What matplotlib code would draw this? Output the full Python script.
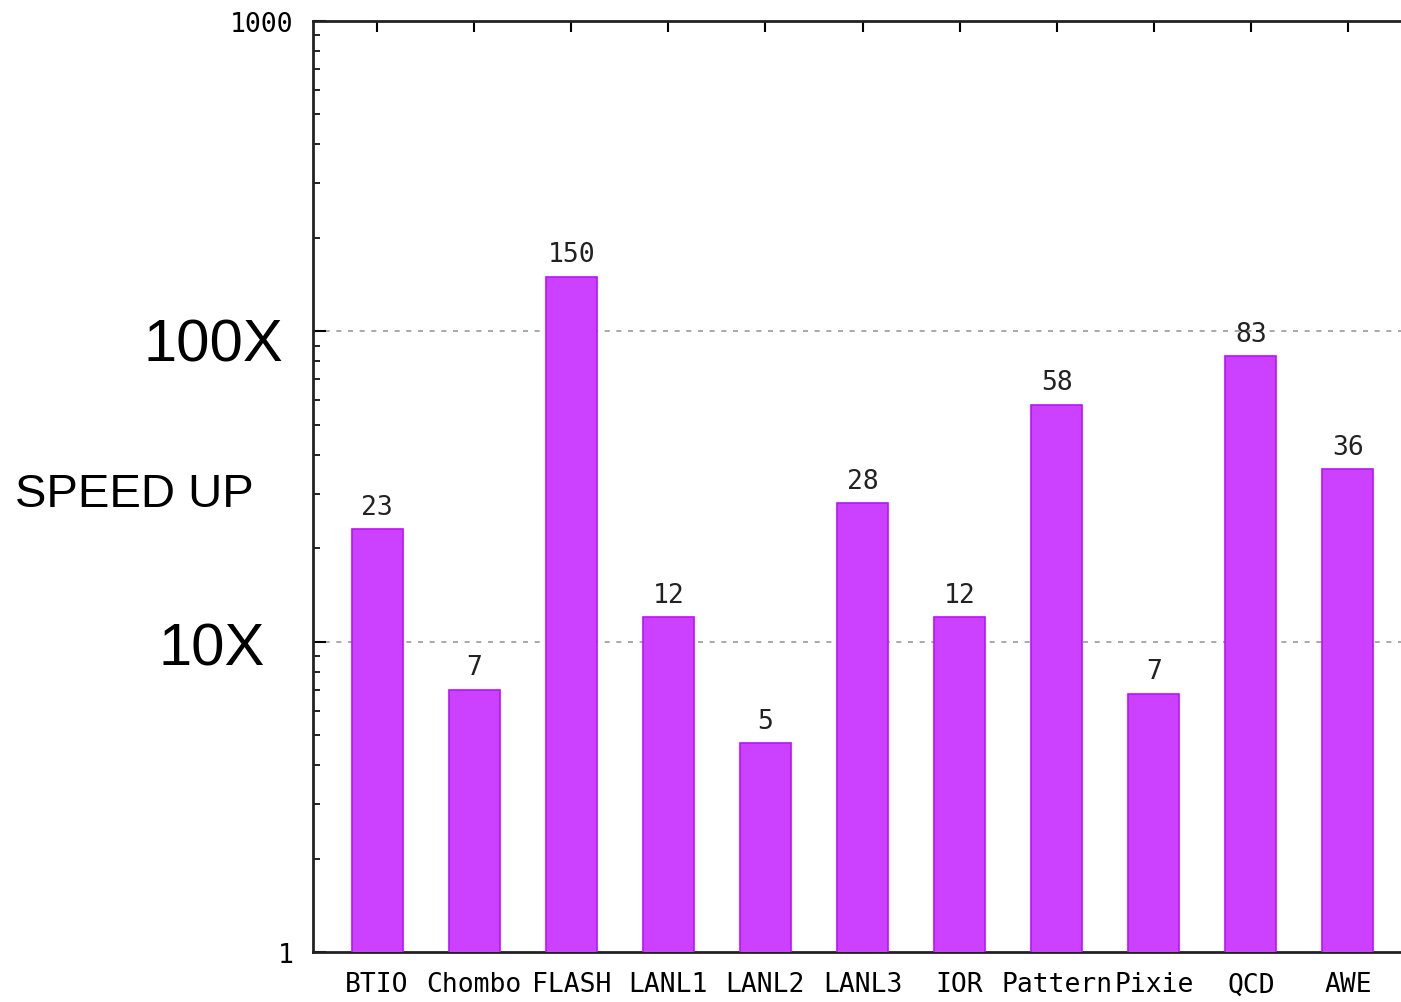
import matplotlib
matplotlib.use('Agg')
import matplotlib.pyplot as plt
from matplotlib.ticker import LogLocator, NullFormatter

benchmarks = ['BTIO', 'Chombo', 'FLASH', 'LANL1', 'LANL2', 'LANL3',
              'IOR', 'Pattern', 'Pixie', 'QCD', 'AWE']
speedup = [23, 7, 150, 12, 4.7, 28, 12, 58, 6.8, 83, 36]

mono = 'DejaVu Sans Mono'

fig = plt.figure(figsize=(14.01, 10.03), dpi=100)
ax = fig.add_axes([313 / 1401, 50 / 1003, 1099 / 1401, 931 / 1003])

x = list(range(len(benchmarks)))
ax.bar(x, speedup, width=0.525, color='#cc40ff', edgecolor='#bb10ff',
       linewidth=1.2, zorder=3)

for xi, v in zip(x, speedup):
    ax.annotate(f'{v:.0f}', (xi, v), xytext=(0, 11), textcoords='offset points',
                ha='center', va='baseline', fontsize=19, family=mono,
                color='#222222')

ax.set_yscale('log')
ax.set_ylim(1, 1000)
ax.set_xlim(-0.66, len(benchmarks) - 1 + 0.66)

ax.set_yticks([1, 10, 100, 1000])
ax.set_yticklabels(['1', '', '', '1000'], family=mono, fontsize=19)
ax.yaxis.set_minor_locator(LogLocator(base=10, subs=range(2, 10)))
ax.yaxis.set_minor_formatter(NullFormatter())
ax.tick_params(axis='y', which='major', direction='in', length=9, width=1.5, pad=14)
ax.tick_params(axis='y', which='minor', direction='in', length=5, width=1.2)

ax.set_xticks(x)
ax.set_xticklabels(benchmarks, family=mono, fontsize=19)
ax.tick_params(axis='x', which='both', bottom=False, top=True, direction='in',
               length=8, width=1.5, pad=14)

for yv in (10, 100):
    ax.axhline(yv, color='#999999', linewidth=1.2, linestyle=(0, (3, 4)), zorder=1)

for side in ('left', 'top', 'bottom'):
    ax.spines[side].set_linewidth(2)
    ax.spines[side].set_color('#222222')
ax.spines['right'].set_visible(False)

fig.text(15 / 1401, 1 - 507 / 1003, 'SPEED UP', fontsize=34,
         family='Liberation Sans', ha='left', va='baseline')
fig.text(283 / 1401, 1 - 362 / 1003, '100X', fontsize=43,
         family='Liberation Sans', ha='right', va='baseline')
fig.text(265 / 1401, 1 - 665 / 1003, '10X', fontsize=43,
         family='Liberation Sans', ha='right', va='baseline')

fig.savefig('out.png', dpi=100)
